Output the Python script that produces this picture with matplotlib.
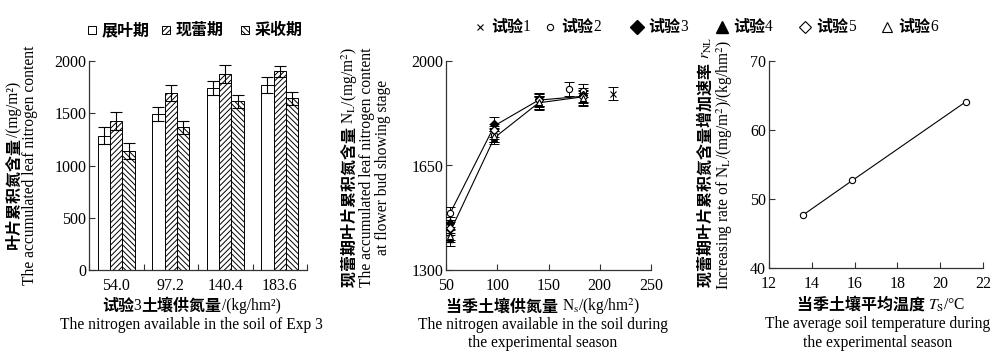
import matplotlib
matplotlib.use("Agg")
import matplotlib.pyplot as plt
from matplotlib.lines import Line2D
from matplotlib.patches import Rectangle
import numpy as np

plt.rcParams['font.family'] = ['Liberation Serif', 'Noto Sans CJK SC']
plt.rcParams['mathtext.fontset'] = 'stix'
plt.rcParams['hatch.linewidth'] = 0.7
plt.rcParams['axes.unicode_minus'] = False

# ---------------- data ----------------
# Panel 1
n_levels = ['54.0', '97.2', '140.4', '183.6']
stage_names = ['展叶期', '现蕾期', '采收期']
leaf_expansion = [1285, 1493, 1739, 1770]
leaf_expansion_err = [80, 70, 67, 74]
bud_showing = [1426, 1694, 1876, 1901]
bud_showing_err = [85, 73, 89, 54]
harvest = [1139, 1365, 1614, 1643]
harvest_err = [80, 60, 64, 63]

# Panel 2
exp_names = ['试验1', '试验2', '试验3', '试验4', '试验5', '试验6']
exp1_x = [54.0, 97.2, 140.4, 213.0]
exp1_y = [1423, 1760, 1862, 1890]
exp2_x = [54.0, 97.2, 140.4, 170.0, 183.6]
exp2_y = [1490, 1752, 1870, 1906, 1900]
exp3_x = [54.0, 97.2, 140.4, 183.6]
exp3_y = [1456, 1789, 1872, 1886]
exp4_x = [54.0, 97.2, 140.4, 183.6]
exp4_y = [1403, 1743, 1858, 1872]
exp5_x = [54.0, 97.2, 140.4, 183.6]
exp5_y = [1440, 1768, 1868, 1880]
exp6_x = [54.0, 97.2, 140.4, 183.6]
exp6_y = [1415, 1750, 1862, 1876]
nl_err = 22
fit_upper_x = [54.0, 97.2, 140.4, 183.6]
fit_upper_y = [1490, 1783, 1869, 1882]
fit_lower_x = [54.0, 97.2, 140.4, 183.6]
fit_lower_y = [1428, 1743, 1860, 1880]

# Panel 3
soil_temp = [13.6, 15.9, 21.2]
rate_nl = [47.7, 52.7, 64.1]

# ---------------- figure ----------------
W, H = 994, 353
fig = plt.figure(figsize=(W / 100, H / 100), dpi=100)


def fx(px):
    return px / W


def fy(py):
    return 1 - py / H


def axes_px(l, t, r, b):
    return fig.add_axes([fx(l), fy(b), fx(r) - fx(l), fy(t) - fy(b)])


spine_c = '#333333'
FS = 11.5
FS_CN = 11.5
FS_EN = 11.2
CN = ['Noto Sans CJK SC']


def style(ax):
    for s in ['top', 'right']:
        ax.spines[s].set_visible(False)
    for s in ['left', 'bottom']:
        ax.spines[s].set_color(spine_c)
        ax.spines[s].set_linewidth(0.9)
    ax.tick_params(direction='in', length=4, width=0.8, color=spine_c,
                   labelsize=FS, pad=2)
    ax.tick_params(axis='x', pad=6)


# ---- Panel 1 ----
ax1 = axes_px(89, 61, 307, 270)
style(ax1)
xpos = np.arange(len(n_levels))
bw = 0.225
series = [(leaf_expansion, leaf_expansion_err, ''),
          (bud_showing, bud_showing_err, '//////'),
          (harvest, harvest_err, '\\\\\\\\\\\\')]
for i, (vals, errs, hatch) in enumerate(series):
    xs = xpos + (i - 1) * bw
    ax1.bar(xs, vals, width=bw, facecolor='white', edgecolor='black',
            linewidth=0.7, hatch=hatch, zorder=2)
    ax1.errorbar(xs, vals, yerr=errs, fmt='none', ecolor='black',
                 elinewidth=0.8, capsize=4, capthick=0.8, zorder=3)
ax1.set_xlim(-0.5, len(n_levels) - 0.5)
ax1.set_ylim(0, 2000)
ax1.set_yticks([0, 500, 1000, 1500, 2000])
ax1.set_xticks(np.arange(len(n_levels) + 1) - 0.5)
ax1.set_xticklabels([])
ax1.set_xticks(xpos, minor=True)
ax1.set_xticklabels(n_levels, minor=True)
ax1.tick_params(axis='x', which='minor', length=0, labelsize=FS, pad=6)

# ---- Panel 2 ----
ax2 = axes_px(446, 61, 651, 270)
style(ax2)
ax2.plot(fit_upper_x, fit_upper_y, color='black', lw=0.8, zorder=2)
ax2.plot(fit_lower_x, fit_lower_y, color='black', lw=0.8, zorder=2)
mk = [
    (exp1_x, exp1_y, dict(marker='x', ms=4.5, mec='black', mew=0.8)),
    (exp2_x, exp2_y, dict(marker='o', ms=4.5, mfc='white', mec='black', mew=0.8)),
    (exp3_x, exp3_y, dict(marker='D', ms=4.5, mfc='black', mec='black')),
    (exp4_x, exp4_y, dict(marker='^', ms=5, mfc='black', mec='black')),
    (exp5_x, exp5_y, dict(marker='D', ms=4, mfc='white', mec='black', mew=0.8)),
    (exp6_x, exp6_y, dict(marker='^', ms=4.5, mfc='white', mec='black', mew=0.8)),
]
for xs, ys, kw in mk:
    ax2.errorbar(xs, ys, yerr=nl_err, fmt='none', ecolor='black',
                 elinewidth=0.7, capsize=3.5, capthick=0.7, zorder=3)
    ax2.plot(xs, ys, linestyle='none', zorder=4, **kw)
ax2.set_xlim(50, 250)
ax2.set_ylim(1300, 2000)
ax2.set_xticks([50, 100, 150, 200, 250])
ax2.set_yticks([1300, 1650, 2000])

# ---- Panel 3 ----
ax3 = axes_px(769, 61, 983, 268)
style(ax3)
ax3.plot(soil_temp, rate_nl, color='black', lw=0.8, marker='o', ms=4.5,
         mfc='white', mec='black', mew=0.8)
ax3.set_xlim(12, 22)
ax3.set_ylim(40, 70)
ax3.set_xticks([12, 14, 16, 18, 20, 22])
ax3.set_yticks([40, 50, 60, 70])

# ---------------- axis titles ----------------
renderer = fig.canvas.get_renderer()


def chain(px, py, pieces, rotation=0, align='center'):
    """pieces: list of (string, is_chinese)."""
    texts = []
    for s, cn in pieces:
        kw = dict(fontsize=FS_CN if cn else FS_EN)
        if cn:
            kw.update(family=CN, weight='bold')
        t = fig.text(0, 0, s, rotation=rotation,
                     ha='left' if rotation == 0 else 'center',
                     va='center' if rotation == 0 else 'bottom', **kw)
        texts.append(t)
    sizes = []
    for t in texts:
        bb = t.get_window_extent(renderer)
        sizes.append(bb.width if rotation == 0 else bb.height)
    total = sum(sizes)
    pos = -total / 2 if align == 'center' else 0
    for t, sz in zip(texts, sizes):
        if rotation == 0:
            t.set_position((fx(px + pos), fy(py)))
        else:
            t.set_position((fx(px), fy(py - pos)))
        pos += sz


chain(14, 165, [('叶片累积氮含量', True), ('/(mg/m²)', False)], rotation=90)
chain(30, 165, [('The accumulated leaf nitrogen content', False)], rotation=90)
chain(191, 306, [('试验', True), ('3', False), ('土壤供氮量', True), ('/(kg/hm²)', False)])
chain(191, 325, [('The nitrogen available in the soil of Exp 3', False)])

chain(350, 167, [('现蕾期叶片累积氮含量 ', True), ('N$_\\mathrm{L}$/(mg/m$^2$)', False)], rotation=90)
chain(367, 167, [('The accumulated leaf nitrogen content', False)], rotation=90)
chain(383, 167, [('at flower bud showing stage', False)], rotation=90)
chain(543, 307, [('当季土壤供氮量 ', True), ('N$_\\mathrm{s}$/(kg/hm$^2$)', False)])
chain(543, 325, [('The nitrogen available in the soil during', False)])
chain(543, 343, [('the experimental season', False)])

chain(706, 162, [('现蕾期叶片累积氮含量增加速率 ', True), ('$r_\\mathrm{NL}$', False)], rotation=90)
chain(725, 165, [('Increasing rate of N$_\\mathrm{L}$/(mg/m$^2$)/(kg/hm$^2$)', False)], rotation=90)
chain(881, 305, [('当季土壤平均温度 ', True), ('$T_\\mathrm{S}$/°C', False)])
chain(878, 324, [('The average soil temperature during', False)])
chain(878, 343, [('the experimental season', False)])

# ---------------- legends ----------------
leg1_px = [92, 166, 245]
for px, name, (_, _, hatch) in zip(leg1_px, stage_names, series):
    s = 8
    r = Rectangle((fx(px - s / 2), fy(30 + s / 2)), fx(s), s / H,
                  transform=fig.transFigure, facecolor='white',
                  edgecolor='black', linewidth=0.7, hatch=hatch)
    fig.patches.append(r)
    chain(px + 10, 30, [(name, True)], align='left')

leg2_px = [480, 550, 637, 722, 805, 887]
for px, name, (_, _, kw) in zip(leg2_px, exp_names, mk):
    kw2 = dict(kw)
    kw2['ms'] = kw2['ms'] * (1.0 if kw2['marker'] in ('x', 'o') else 1.6)
    fig.add_artist(Line2D([fx(px)], [fy(27)], transform=fig.transFigure,
                          linestyle='none', **kw2))
    chain(px + 11, 27, [(name[:2], True), (name[2:], False)], align='left')

fig.savefig('out.png', dpi=100)
